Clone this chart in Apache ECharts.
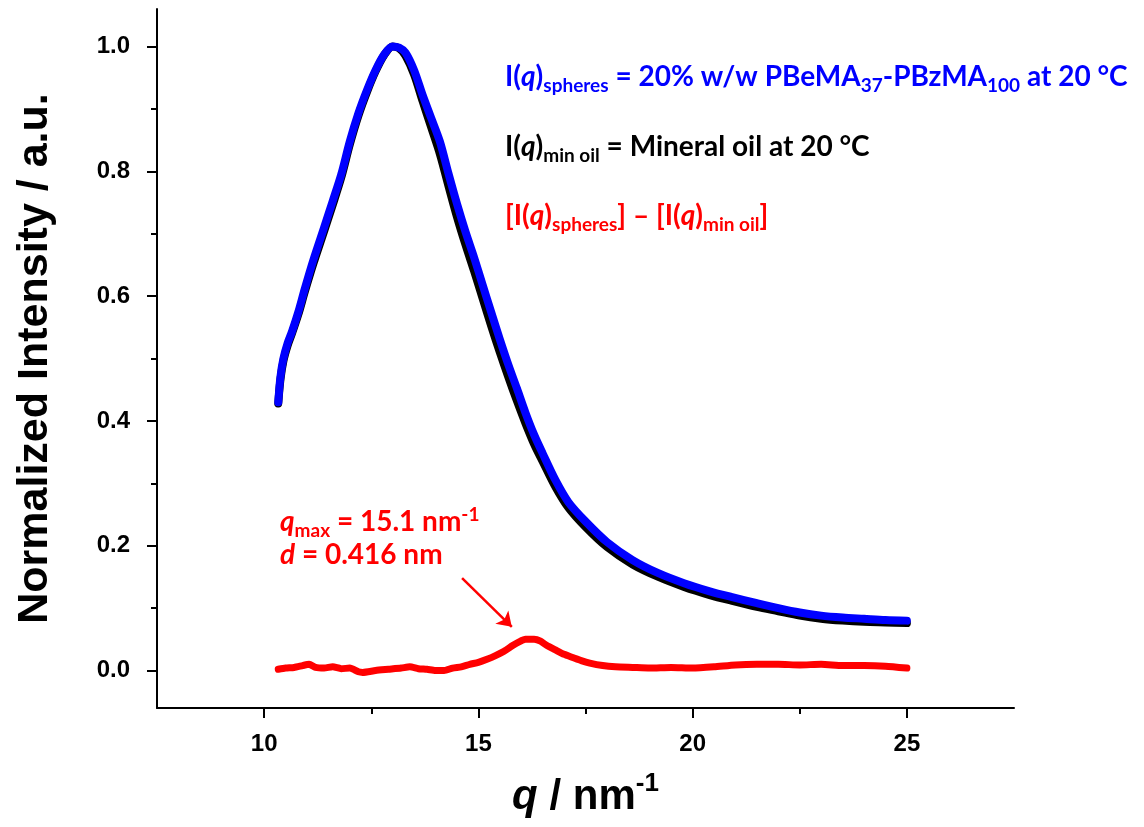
<!DOCTYPE html>
<html>
<head>
<meta charset="utf-8">
<script src="https://cdn.jsdelivr.net/npm/echarts@6/dist/echarts.min.js"></script>
<style>
  html, body { margin: 0; padding: 0; background: #fff; }
  #demo { width: 1144px; height: 827px; }
</style>
</head>
<body>
<div id="demo"></div>
<script>
// q / nm^-1 and normalized intensity
const sphereQ = [10.33, 10.38, 10.45, 10.55, 10.65, 10.8, 10.95, 11.15, 11.4, 11.6, 11.8, 12.0, 12.2, 12.4, 12.6, 12.8, 13.0, 13.15, 13.3, 13.5, 13.7, 13.9, 14.1, 14.3, 14.5, 14.7, 14.9, 15.1, 15.3, 15.5, 15.7, 15.9, 16.1, 16.3, 16.5, 16.8, 17.1, 17.5, 18.0, 18.6, 19.2, 19.8, 20.4, 20.9, 21.5, 22.0, 22.5, 23.0, 23.5, 24.0, 24.5, 25.0];
const sphereI = [0.430, 0.470, 0.500, 0.525, 0.543, 0.575, 0.612, 0.658, 0.710, 0.752, 0.795, 0.848, 0.893, 0.930, 0.962, 0.987, 1.000, 0.998, 0.990, 0.962, 0.922, 0.885, 0.848, 0.797, 0.748, 0.703, 0.662, 0.618, 0.574, 0.531, 0.490, 0.452, 0.413, 0.378, 0.348, 0.305, 0.270, 0.239, 0.206, 0.177, 0.156, 0.140, 0.127, 0.118, 0.108, 0.100, 0.093, 0.088, 0.085, 0.083, 0.081, 0.080];

const oilQ = [10.33, 10.38, 10.45, 10.55, 10.65, 10.8, 10.95, 11.15, 11.4, 11.6, 11.8, 12.0, 12.2, 12.4, 12.6, 12.8, 13.0, 13.15, 13.3, 13.5, 13.7, 13.9, 14.1, 14.3, 14.5, 14.7, 14.9, 15.1, 15.3, 15.5, 15.7, 15.9, 16.1, 16.3, 16.5, 16.8, 17.1, 17.5, 18.0, 18.6, 19.2, 19.8, 20.4, 20.9, 21.5, 22.0, 22.5, 23.0, 23.5, 24.0, 24.5, 25.0];
const oilI = [0.428, 0.466, 0.496, 0.521, 0.540, 0.571, 0.607, 0.652, 0.704, 0.746, 0.790, 0.843, 0.889, 0.927, 0.960, 0.986, 1.000, 0.997, 0.985, 0.955, 0.912, 0.870, 0.828, 0.777, 0.727, 0.682, 0.640, 0.596, 0.552, 0.510, 0.470, 0.432, 0.396, 0.363, 0.335, 0.294, 0.261, 0.230, 0.198, 0.170, 0.150, 0.134, 0.121, 0.112, 0.102, 0.095, 0.088, 0.083, 0.080, 0.078, 0.077, 0.076];

const diffQ = [10.33, 10.5, 10.7, 10.9, 11.05, 11.2, 11.4, 11.6, 11.8, 12.0, 12.2, 12.3, 12.6, 12.9, 13.2, 13.4, 13.6, 13.8, 14.0, 14.2, 14.4, 14.6, 14.8, 15.0, 15.2, 15.4, 15.6, 15.8, 15.95, 16.1, 16.3, 16.45, 16.6, 16.8, 17.0, 17.2, 17.4, 17.6, 17.9, 18.2, 18.6, 19.0, 19.5, 20.0, 20.5, 21.0, 21.5, 22.0, 22.5, 23.0, 23.5, 24.0, 24.5, 25.0];
const diffI = [0.002, 0.004, 0.005, 0.008, 0.010, 0.005, 0.004, 0.006, 0.003, 0.004, -0.002, -0.003, 0.000, 0.002, 0.004, 0.006, 0.003, 0.002, 0.000, 0.000, 0.004, 0.006, 0.010, 0.013, 0.018, 0.024, 0.031, 0.040, 0.046, 0.050, 0.050, 0.047, 0.040, 0.033, 0.026, 0.021, 0.016, 0.012, 0.008, 0.006, 0.005, 0.004, 0.005, 0.004, 0.006, 0.009, 0.010, 0.010, 0.009, 0.010, 0.008, 0.008, 0.007, 0.004];

const xMajor = [10, 15, 20, 25];
const xMinor = [12.5, 17.5, 22.5];
const yMajor = [0, 0.2, 0.4, 0.6, 0.8, 1.0];
const yMinor = [0.1, 0.3, 0.5, 0.7, 0.9];

function pairs(xs, ys) {
  return xs.map((x, i) => [x, ys[i]]);
}

// graphic text uses zrender style names (fill, not color)
const legendFont = 'Lato';
function richStyles(color) {
  return {
    n: { fontFamily: legendFont, fontWeight: 'bold', fontSize: 28, fill: color, lineHeight: 34, verticalAlign: 'middle' },
    i: { fontFamily: legendFont, fontWeight: 'bold', fontStyle: 'italic', fontSize: 28, fill: color, lineHeight: 34, verticalAlign: 'middle' },
    s: { fontFamily: legendFont, fontWeight: 'bold', fontSize: 19, fill: color, lineHeight: 20, padding: [18, 0, 0, 0], verticalAlign: 'middle' },
    u: { fontFamily: legendFont, fontWeight: 'bold', fontSize: 19, fill: color, lineHeight: 20, padding: [0, 0, 14, 0], verticalAlign: 'middle' }
  };
}

const axisFont = 'Liberation Sans';
const myChart = echarts.init(document.getElementById('demo'), null, { renderer: 'canvas' });
myChart.setOption({
  animation: false,
  backgroundColor: '#fff',
  grid: { left: 157, top: 9, width: 857, height: 699, containLabel: false, outerBoundsMode: 'none' },
  xAxis: [
    {
      type: 'value', position: 'bottom', min: 7.5, max: 27.5, interval: 2.5,
      axisLine: { onZero: false, lineStyle: { color: '#000', width: 2 } },
      axisTick: { customValues: xMajor, length: 10, lineStyle: { color: '#000', width: 2 } },
      axisLabel: { customValues: xMajor, margin: 24, color: '#000', fontFamily: axisFont, fontWeight: 'bold', fontSize: 24 },
      splitLine: { show: false },
      name: '{i|q}{n| / nm}{u|-1}',
      nameLocation: 'middle', nameGap: 64,
      nameTextStyle: {
        rich: {
          i: { fontFamily: axisFont, fontWeight: 'bold', fontStyle: 'italic', fontSize: 42, color: '#000', lineHeight: 50, verticalAlign: 'middle' },
          n: { fontFamily: axisFont, fontWeight: 'bold', fontSize: 42, color: '#000', lineHeight: 50, verticalAlign: 'middle' },
          u: { fontFamily: axisFont, fontWeight: 'bold', fontSize: 26, color: '#000', lineHeight: 26, padding: [0, 0, 26, 0], verticalAlign: 'middle' }
        }
      }
    },
    {
      type: 'value', position: 'bottom', min: 7.5, max: 27.5, interval: 2.5,
      axisLine: { show: false, onZero: false },
      axisTick: { customValues: xMinor, length: 6, lineStyle: { color: '#000', width: 2 } },
      axisLabel: { show: false },
      splitLine: { show: false }
    }
  ],
  yAxis: [
    {
      type: 'value', position: 'left', min: -0.06, max: 1.06, interval: 0.2,
      axisLine: { show: true, onZero: false, lineStyle: { color: '#000', width: 2 } },
      axisTick: { show: true, customValues: yMajor, length: 10, lineStyle: { color: '#000', width: 2 } },
      axisLabel: { customValues: yMajor, margin: 27, color: '#000', fontFamily: axisFont, fontWeight: 'bold', fontSize: 24, formatter: v => v.toFixed(1) },
      splitLine: { show: false },
      name: 'Normalized Intensity / a.u.',
      nameLocation: 'middle', nameRotate: 90, nameGap: 100,
      nameTextStyle: { fontFamily: axisFont, fontWeight: 'bold', fontSize: 43, color: '#000' }
    },
    {
      type: 'value', position: 'left', min: -0.06, max: 1.06, interval: 0.2,
      axisLine: { show: false, onZero: false },
      axisTick: { show: true, customValues: yMinor, length: 6, lineStyle: { color: '#000', width: 2 } },
      axisLabel: { show: false },
      splitLine: { show: false }
    }
  ],
  series: [
    {
      name: 'min oil', type: 'line', data: pairs(oilQ, oilI), smooth: 0.3,
      showSymbol: false, lineStyle: { color: '#000', width: 8, cap: 'round', join: 'round' }
    },
    {
      name: 'spheres', type: 'line', data: pairs(sphereQ, sphereI), smooth: 0.3,
      showSymbol: false, lineStyle: { color: '#0000ff', width: 8, cap: 'round', join: 'round' }
    },
    {
      name: 'difference', type: 'line', data: pairs(diffQ, diffI), smooth: 0.2,
      showSymbol: false, lineStyle: { color: '#ff0000', width: 7, cap: 'round', join: 'round' },
      markLine: {
        silent: true, symbol: ['none', 'arrow'], symbolSize: 14,
        label: { show: false },
        lineStyle: { color: '#ff0000', width: 2.5, type: 'solid' },
        data: [[{ coord: [14.62, 0.148] }, { coord: [15.78, 0.070] }]]
      }
    }
  ],
  graphic: [
    { type: 'text', left: 505, top: 58, style: {
      text: '{n|I(}{i|q}{n|)}{s|spheres}{n| = 20% w/w PBeMA}{s|37}{n|-PBzMA}{s|100}{n| at 20 °C}',
      rich: richStyles('#0000ff') } },
    { type: 'text', left: 505, top: 128, style: {
      text: '{n|I(}{i|q}{n|)}{s|min oil}{n| = Mineral oil at 20 °C}',
      rich: richStyles('#000') } },
    { type: 'text', left: 505, top: 197, style: {
      text: '{n|[I(}{i|q}{n|)}{s|spheres}{n|] – [I(}{i|q}{n|)}{s|min oil}{n|]}',
      rich: richStyles('#ff0000') } },
    { type: 'text', left: 280, top: 503, style: {
      text: '{i|q}{s|max}{n| = 15.1 nm}{u|-1}',
      rich: richStyles('#ff0000') } },
    { type: 'text', left: 280, top: 541, style: {
      text: '{i|d}{n| = 0.416 nm}',
      rich: richStyles('#ff0000') } }
  ]
});
</script>
</body>
</html>
